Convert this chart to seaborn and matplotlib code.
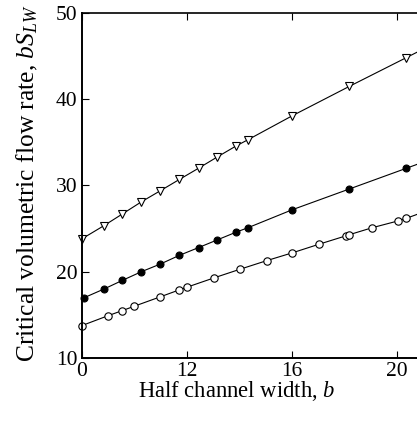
import numpy as np
import pandas as pd
import matplotlib
matplotlib.use("Agg")
import matplotlib.pyplot as plt
import seaborn as sns

# ---- data ----
tri_x = [8.0, 8.85, 9.55, 10.27, 11.0, 11.72, 12.45, 13.16, 13.89, 14.33, 16.03, 18.2, 20.35, 21.0]
tri_y = [23.8, 25.35, 26.7, 28.1, 29.4, 30.7, 32.0, 33.3, 34.6, 35.3, 38.1, 41.5, 44.8, 45.8]

fill_x = [8.1, 8.85, 9.55, 10.27, 11.0, 11.72, 12.45, 13.17, 13.89, 14.33, 16.03, 18.2, 20.37, 21.0]
fill_y = [17.0, 18.0, 19.0, 20.0, 20.9, 21.9, 22.8, 23.7, 24.6, 25.1, 27.2, 29.6, 32.0, 32.7]

open_x = [8.0, 9.0, 9.55, 10.0, 11.0, 11.72, 12.0, 13.05, 14.04, 15.06, 16.03, 17.05, 18.05, 18.2, 19.06, 20.06, 20.37, 21.0]
open_y = [13.75, 14.9, 15.5, 16.0, 17.1, 17.9, 18.2, 19.3, 20.3, 21.3, 22.2, 23.2, 24.15, 24.3, 25.1, 25.9, 26.2, 26.9]

x_ticks = [8, 12, 16, 20]
x_tick_labels = ["0", "12", "16", "20"]
y_ticks = [10, 20, 30, 40, 50]
y_tick_labels = ["10", "20", "30", "40", "50"]

sns.set_theme(style="white")
plt.rcParams["font.family"] = ["Liberation Serif", "DejaVu Serif"]
plt.rcParams["mathtext.fontset"] = "custom"
plt.rcParams["mathtext.rm"] = "Liberation Serif"
plt.rcParams["mathtext.it"] = "Liberation Serif:italic"

W, H = 417, 423
fig = plt.figure(figsize=(W / 100, H / 100), dpi=100)
left, right, top, bottom = 81.7, 417, 13, 358
ax = fig.add_axes([left / W, 1 - bottom / H, (right - left) / W, (bottom - top) / H])

df_t = pd.DataFrame({"x": tri_x, "y": tri_y})
df_f = pd.DataFrame({"x": fill_x, "y": fill_y})
df_o = pd.DataFrame({"x": open_x, "y": open_y})

common = dict(color="black", linewidth=0.8, sort=False, ax=ax)
sns.lineplot(data=df_t, x="x", y="y", marker="v", markersize=6,
             markerfacecolor="white", markeredgecolor="black", markeredgewidth=0.8, **common)
sns.lineplot(data=df_f, x="x", y="y", marker="o", markersize=5,
             markerfacecolor="black", markeredgecolor="black", markeredgewidth=0.8, **common)
sns.lineplot(data=df_o, x="x", y="y", marker="o", markersize=5.3,
             markerfacecolor="white", markeredgecolor="black", markeredgewidth=0.8, **common)

for ln in ax.lines:
    ln.set_clip_on(False)

ax.set_xlim(8, 8 + (right - left) / 26.25)
ax.set_ylim(10, 50)
ax.set_xticks(x_ticks)
ax.set_xticklabels(x_tick_labels)
ax.set_yticks(y_ticks)
ax.set_yticklabels(y_tick_labels)

ax.tick_params(axis="both", which="major", direction="in", length=5, width=0.8,
               labelsize=15.5, colors="black", top=True, bottom=True, left=True, right=False, pad=3)
for s in ["left", "bottom", "top"]:
    ax.spines[s].set_visible(True)
    ax.spines[s].set_color("black")
ax.spines["left"].set_linewidth(1.4)
ax.spines["bottom"].set_linewidth(1.4)
ax.spines["top"].set_linewidth(1.2)
ax.spines["right"].set_visible(False)

ax.set_xlabel("Half channel width, $b$", fontsize=16.3, color="black")
ax.set_ylabel("Critical volumetric flow rate, $bS_{LW}$", fontsize=18.4, color="black")
ax.xaxis.set_label_coords(0.463, -0.062)
ax.yaxis.set_label_coords(-0.125, 0.507)

fig.savefig("out.png", dpi=100)
